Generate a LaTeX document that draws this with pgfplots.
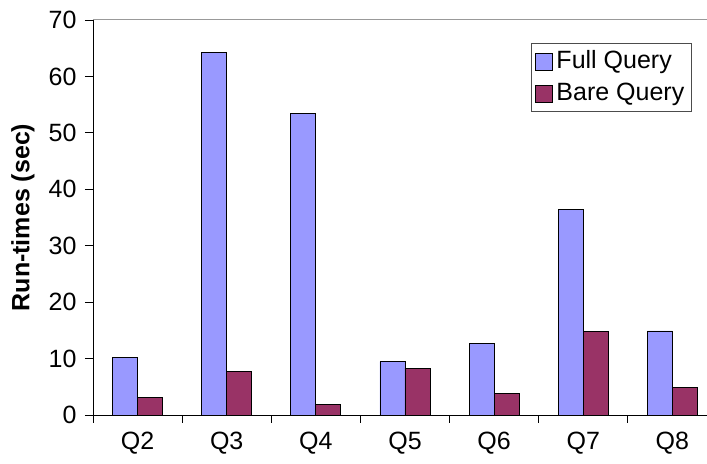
\documentclass[border=0pt]{standalone}
\usepackage{pgfplots}
\pgfplotsset{compat=1.18}
\usepackage{fontspec}
\setmainfont{Liberation Sans}
\definecolor{fullq}{HTML}{9999FF}
\definecolor{bareq}{HTML}{993366}

\begin{document}
\fontsize{25bp}{30bp}\selectfont
\begin{tikzpicture}
\begin{axis}[
  scale only axis, width=614bp, height=395bp,
  ybar=0pt, bar width=25bp,
  xmin=-0.5, xmax=6.388, ymin=0, ymax=70,
  axis x line*=bottom, axis y line*=left,
  axis line style={black, line width=0.9bp},
  /pgf/number format/assume math mode=true,
  xtick={-0.5,0.5,...,5.5},
  xticklabels={Q2,Q3,Q4,Q5,Q6,Q7,Q8},
  xticklabel style={xshift=44.57bp, yshift=-1bp},
  ytick={0,10,...,70},
  tick align=outside, major tick length=8bp,
  tick style={black, line width=0.8bp},
  ylabel={\textbf{Run-times (sec)}},
  ylabel style={at={([xshift=-70bp]rel axis cs:0,0.5)}, anchor=center},
  legend cell align=left,
  legend style={at={(0.9756,0.9418)}, anchor=north east,
    draw=gray!60!black, line width=0.8bp, font=\fontsize{25bp}{30bp}\selectfont,
    inner sep=4bp, row sep=4bp,
    nodes={inner sep=3.3bp}},
  legend image code/.code={\draw[#1, line width=0.8bp] (0bp,-8.5bp) rectangle (17bp,8.5bp);},
]
\addplot[fill=fullq, draw=black, line width=0.8bp] coordinates
  {(0,10.2) (1,64.2) (2,53.4) (3,9.45) (4,12.7) (5,36.5) (6,14.9)};
\addplot[fill=bareq, draw=black, line width=0.8bp] coordinates
  {(0,3.1) (1,7.7) (2,1.9) (3,8.3) (4,3.8) (5,14.8) (6,4.9)};
\legend{Full Query, Bare Query}
\draw[gray!80, line width=1bp] (rel axis cs:0,1) -- (rel axis cs:1,1);
\end{axis}
\pgfresetboundingbox
\path[use as bounding box] ([xshift=-93bp,yshift=-49bp]current axis.south west)
  rectangle ([yshift=20bp]current axis.north east);
\end{tikzpicture}
\end{document}
